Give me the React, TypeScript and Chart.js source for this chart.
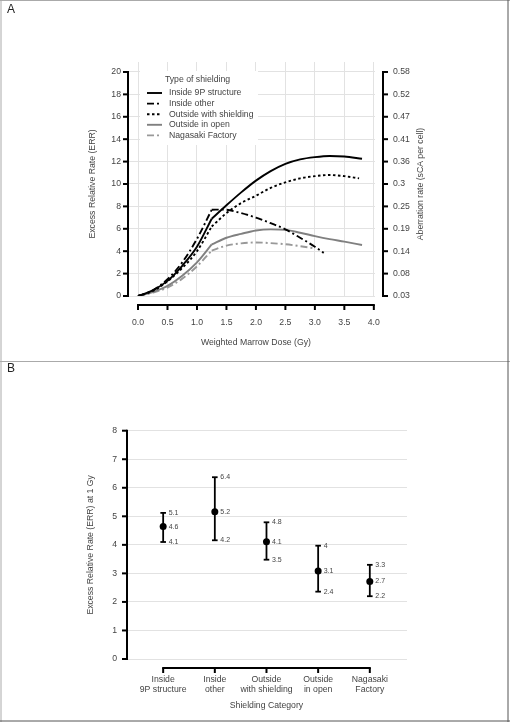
import React, { useEffect, useRef } from "react";
import { Chart, registerables } from "chart.js";

Chart.register(...registerables);

const FONT = '"Liberation Sans", Arial, sans-serif';
const TEXT = "#444";

// ---------- Panel A data ----------
const doseTicks = [0, 0.5, 1, 1.5, 2, 2.5, 3, 3.5, 4];
const errTicksA = [0, 2, 4, 6, 8, 10, 12, 14, 16, 18, 20];
const aberrationLabels = ["0.03", "0.08", "0.14", "0.19", "0.25", "0.3", "0.36", "0.41", "0.47", "0.52", "0.58"];
const kinkDose = 1.25;

const dose9P = [0, 0.25, 0.5, 0.75, 1.0, 1.25, 1.5, 1.75, 2.0, 2.25, 2.5, 2.75, 3.0, 3.25, 3.5, 3.8];
const err9P = [0, 0.5, 1.35, 2.7, 4.4, 6.9, 8.1, 9.25, 10.3, 11.15, 11.8, 12.2, 12.4, 12.5, 12.45, 12.25];

const doseOther = [0, 0.25, 0.5, 0.75, 1.0, 1.25, 1.45, 1.75, 2.0, 2.25, 2.5, 2.75, 3.0, 3.15];
const errOther = [0, 0.5, 1.5, 3.0, 5.1, 7.7, 7.72, 7.4, 7.0, 6.5, 5.95, 5.2, 4.4, 3.85];

const doseShield = [0, 0.25, 0.5, 0.75, 1.0, 1.25, 1.5, 1.75, 2.0, 2.25, 2.5, 2.75, 3.0, 3.25, 3.5, 3.75];
const errShield = [0, 0.45, 1.3, 2.5, 4.0, 6.2, 7.4, 8.3, 8.95, 9.65, 10.15, 10.5, 10.7, 10.8, 10.7, 10.5];

const doseOpen = [0, 0.25, 0.5, 0.75, 1.0, 1.25, 1.5, 1.75, 2.0, 2.25, 2.5, 2.75, 3.0, 3.25, 3.5, 3.8];
const errOpen = [0, 0.35, 0.9, 1.8, 3.0, 4.6, 5.2, 5.55, 5.85, 5.95, 5.9, 5.65, 5.35, 5.08, 4.85, 4.55];

const doseNagasaki = [0, 0.25, 0.5, 0.75, 1.0, 1.25, 1.5, 1.75, 2.0, 2.25, 2.5, 2.75, 3.0];
const errNagasaki = [0, 0.3, 0.75, 1.55, 2.65, 4.05, 4.5, 4.7, 4.78, 4.72, 4.62, 4.45, 4.25];

const seriesNames = ["Inside 9P structure", "Inside other", "Outside with shielding", "Outside in open", "Nagasaki Factory"];

// ---------- Panel B data ----------
const categories = [
  ["Inside", "9P structure"],
  ["Inside", "other"],
  ["Outside", "with shielding"],
  ["Outside", "in open"],
  ["Nagasaki", "Factory"],
];
const errAt1Gy = [4.64, 5.16, 4.11, 3.08, 2.72];
const errUpper = [5.12, 6.37, 4.79, 3.97, 3.3];
const errLower = [4.1, 4.16, 3.48, 2.36, 2.2];
const midLabels = ["4.6", "5.2", "4.1", "3.1", "2.7"];
const upperLabels = ["5.1", "6.4", "4.8", "4", "3.3"];
const lowerLabels = ["4.1", "4.2", "3.5", "2.4", "2.2"];
const errTicksB = [0, 1, 2, 3, 4, 5, 6, 7, 8];

const styles = [
  { color: "#000", width: 1.9, dash: [] as number[] },
  { color: "#000", width: 1.9, dash: [7, 3, 2, 3] },
  { color: "#000", width: 1.9, dash: [2.5, 2.5] },
  { color: "#808080", width: 1.9, dash: [] as number[] },
  { color: "#999", width: 1.9, dash: [7, 3, 2, 3] },
];

function pts(xs: number[], ys: number[]) {
  return xs.map((x, i) => ({ x, y: ys[i] }));
}

function splitAtKink(xs: number[], ys: number[]) {
  const k = xs.indexOf(kinkDose);
  return [pts(xs.slice(0, k + 1), ys.slice(0, k + 1)), pts(xs.slice(k), ys.slice(k))];
}

function line(ctx: CanvasRenderingContext2D, x1: number, y1: number, x2: number, y2: number) {
  ctx.beginPath();
  ctx.moveTo(x1, y1);
  ctx.lineTo(x2, y2);
  ctx.stroke();
}

function vText(ctx: CanvasRenderingContext2D, text: string, x: number, y: number) {
  ctx.save();
  ctx.translate(x, y);
  ctx.rotate(-Math.PI / 2);
  ctx.textAlign = "center";
  ctx.textBaseline = "middle";
  ctx.fillText(text, 0, 0);
  ctx.restore();
}

function drawBorder(ctx: CanvasRenderingContext2D, w: number, h: number, top: boolean, bottom: boolean) {
  ctx.save();
  ctx.lineWidth = 1;
  ctx.strokeStyle = "#aaa";
  if (top) line(ctx, 0, 0.5, w, 0.5);
  line(ctx, 1, 0, 1, h);
  ctx.strokeStyle = "#555";
  line(ctx, w - 2, 0, w - 2, h);
  if (bottom) line(ctx, 0, h - 1, w, h - 1);
  ctx.restore();
}

const panelAPlugin = {
  id: "panelA",
  afterDraw(chart: any) {
    const ctx: CanvasRenderingContext2D = chart.ctx;
    const area = chart.chartArea;
    const xs = chart.scales.x;
    const ys = chart.scales.y;
    ctx.save();
    // legend box
    ctx.fillStyle = "#fff";
    ctx.fillRect(140, 71, 118, 74);
    ctx.font = `8.7px ${FONT}`;
    ctx.fillStyle = TEXT;
    ctx.textAlign = "center";
    ctx.textBaseline = "middle";
    ctx.fillText("Type of shielding", 197.5, 79.5);
    ctx.textAlign = "left";
    seriesNames.forEach((name, i) => {
      const yy = 93 + i * 10.6;
      const st = styles[i];
      ctx.strokeStyle = st.color;
      ctx.lineWidth = st.width;
      ctx.setLineDash(st.dash);
      line(ctx, 147, yy, 162, yy);
      ctx.setLineDash([]);
      ctx.fillStyle = TEXT;
      ctx.fillText(name, 169, yy);
    });

    // axes
    ctx.strokeStyle = "#000";
    ctx.lineWidth = 2;
    ctx.lineCap = "butt";
    const yTop = ys.getPixelForValue(20);
    const yBot = ys.getPixelForValue(0);
    const xl = area.left;
    line(ctx, xl, yTop - 1, xl, yBot + 1);
    errTicksA.forEach((v) => {
      const p = ys.getPixelForValue(v);
      line(ctx, xl - 5, p, xl, p);
    });
    const xr = area.right + 8;
    line(ctx, xr, yTop - 1, xr, yBot + 1);
    errTicksA.forEach((v) => {
      const p = ys.getPixelForValue(v);
      line(ctx, xr, p, xr + 5, p);
    });
    const ya = area.bottom + 9;
    const x0 = xs.getPixelForValue(doseTicks[0]);
    const x1 = xs.getPixelForValue(doseTicks[doseTicks.length - 1]);
    line(ctx, x0 - 1, ya, x1 + 1, ya);
    doseTicks.forEach((v) => {
      const p = xs.getPixelForValue(v);
      line(ctx, p, ya, p, ya + 5);
    });

    // titles
    ctx.fillStyle = TEXT;
    ctx.font = `8.7px ${FONT}`;
    ctx.textAlign = "center";
    ctx.textBaseline = "middle";
    ctx.fillText("Weighted Marrow Dose (Gy)", (x0 + x1) / 2, 343);
    vText(ctx, "Excess Relative Rate (ERR)", 93, (yTop + yBot) / 2);
    vText(ctx, "Aberration rate (sCA per cell)", 421, (yTop + yBot) / 2);

    ctx.font = `12px ${FONT}`;
    ctx.fillStyle = "#222";
    ctx.textAlign = "left";
    ctx.fillText("A", 7, 9.5);
    ctx.restore();
    drawBorder(ctx, chart.width, chart.height, true, false);
  },
};

const panelBPlugin = {
  id: "panelB",
  beforeDatasetsDraw(chart: any) {
    const ctx: CanvasRenderingContext2D = chart.ctx;
    const xs = chart.scales.x;
    const ys = chart.scales.y;
    ctx.save();
    ctx.strokeStyle = "#000";
    ctx.lineWidth = 1.8;
    errAt1Gy.forEach((_, i) => {
      const px = xs.getPixelForValue(i + 1);
      const pu = ys.getPixelForValue(errUpper[i]);
      const pl = ys.getPixelForValue(errLower[i]);
      line(ctx, px, pu, px, pl);
      line(ctx, px - 2.8, pu, px + 2.8, pu);
      line(ctx, px - 2.8, pl, px + 2.8, pl);
    });
    ctx.restore();
  },
  afterDraw(chart: any) {
    const ctx: CanvasRenderingContext2D = chart.ctx;
    const area = chart.chartArea;
    const xs = chart.scales.x;
    const ys = chart.scales.y;
    ctx.save();
    // value labels
    ctx.font = `7px ${FONT}`;
    ctx.fillStyle = TEXT;
    ctx.textAlign = "left";
    ctx.textBaseline = "middle";
    errAt1Gy.forEach((v, i) => {
      const px = xs.getPixelForValue(i + 1) + 5.5;
      ctx.fillText(upperLabels[i], px, ys.getPixelForValue(errUpper[i]));
      ctx.fillText(midLabels[i], px, ys.getPixelForValue(v));
      ctx.fillText(lowerLabels[i], px, ys.getPixelForValue(errLower[i]));
    });

    // axes
    ctx.strokeStyle = "#000";
    ctx.lineWidth = 2;
    const yTop = ys.getPixelForValue(8);
    const yBot = ys.getPixelForValue(0);
    const xl = area.left;
    line(ctx, xl, yTop - 1, xl, yBot + 1);
    errTicksB.forEach((v) => {
      const p = ys.getPixelForValue(v);
      line(ctx, xl - 5, p, xl, p);
    });
    const ya = area.bottom + 9;
    const x0 = xs.getPixelForValue(1);
    const x1 = xs.getPixelForValue(categories.length);
    line(ctx, x0 - 1, ya, x1 + 1, ya);
    categories.forEach((_, i) => {
      const p = xs.getPixelForValue(i + 1);
      line(ctx, p, ya, p, ya + 5);
    });

    ctx.fillStyle = TEXT;
    ctx.font = `8.7px ${FONT}`;
    ctx.textAlign = "center";
    ctx.fillText("Shielding Category", (x0 + x1) / 2, 345);
    vText(ctx, "Excess Relative Rate (ERR) at 1 Gy", 90.5, (yTop + yBot) / 2);

    ctx.font = `12px ${FONT}`;
    ctx.fillStyle = "#222";
    ctx.textAlign = "left";
    ctx.fillText("B", 7, 8);
    ctx.restore();
    drawBorder(ctx, chart.width, chart.height, true, true);
  },
};

function PanelA() {
  const ref = useRef<HTMLCanvasElement>(null);
  useEffect(() => {
    const series = [
      splitAtKink(dose9P, err9P),
      splitAtKink(doseOther, errOther),
      splitAtKink(doseShield, errShield),
      splitAtKink(doseOpen, errOpen),
      splitAtKink(doseNagasaki, errNagasaki),
    ];
    const datasets: any[] = [];
    series.forEach((parts, i) => {
      parts.forEach((d) => {
        datasets.push({
          label: seriesNames[i],
          data: d,
          borderColor: styles[i].color,
          borderWidth: styles[i].width,
          borderDash: styles[i].dash,
          pointRadius: 0,
          fill: false,
          cubicInterpolationMode: "monotone",
          yAxisID: "y",
        });
      });
    });
    const chart = new Chart(ref.current!, {
      type: "line",
      data: { datasets },
      options: {
        responsive: false,
        animation: false,
        layout: { padding: { top: 62, left: 0, right: 0, bottom: 0 } },
        plugins: { legend: { display: false }, tooltip: { enabled: false } },
        scales: {
          x: {
            type: "linear",
            min: -0.17,
            max: 4.02,
            afterBuildTicks: (s: any) => {
              s.ticks = doseTicks.map((v) => ({ value: v }));
            },
            afterFit: (s: any) => {
              s.height = 65;
            },
            grid: { color: "#e2e2e2", lineWidth: 1, drawTicks: false },
            border: { display: false },
            ticks: {
              padding: 21,
              color: TEXT,
              font: { family: FONT, size: 8.7 },
              maxRotation: 0,
              autoSkip: false,
              callback: (v: any) => Number(v).toFixed(1),
            },
          },
          y: {
            type: "linear",
            position: "left",
            min: 0,
            max: 20.89,
            afterBuildTicks: (s: any) => {
              s.ticks = errTicksA.map((v) => ({ value: v }));
            },
            afterFit: (s: any) => {
              s.width = 128;
            },
            grid: { color: "#e2e2e2", lineWidth: 1, drawTicks: false },
            border: { display: false },
            ticks: {
              padding: 7,
              color: TEXT,
              font: { family: FONT, size: 8.7 },
              callback: (v: any) => String(v),
            },
          },
          y1: {
            type: "linear",
            position: "right",
            min: 0,
            max: 20.89,
            afterBuildTicks: (s: any) => {
              s.ticks = errTicksA.map((v) => ({ value: v }));
            },
            afterFit: (s: any) => {
              s.width = 135;
            },
            grid: { display: false, drawTicks: false },
            border: { display: false },
            ticks: {
              padding: 18,
              color: TEXT,
              font: { family: FONT, size: 8.7 },
              callback: (_v: any, i: number) => aberrationLabels[i],
            },
          },
        },
      },
      plugins: [panelAPlugin],
    } as any);
    return () => chart.destroy();
  }, []);
  return <canvas ref={ref} width={510} height={361} style={{ display: "block", width: 510, height: 361 }} />;
}

function PanelB() {
  const ref = useRef<HTMLCanvasElement>(null);
  useEffect(() => {
    const chart = new Chart(ref.current!, {
      type: "scatter",
      data: {
        datasets: [
          {
            label: "ERR at 1 Gy",
            data: errAt1Gy.map((v, i) => ({ x: i + 1, y: v })),
            pointRadius: 3.5,
            pointBackgroundColor: "#000",
            pointBorderColor: "#000",
            pointBorderWidth: 0,
          },
        ],
      },
      options: {
        responsive: false,
        animation: false,
        layout: { padding: { top: 69.7, left: 0, right: 103, bottom: 0 } },
        plugins: { legend: { display: false }, tooltip: { enabled: false } },
        scales: {
          x: {
            type: "linear",
            min: 0.3,
            max: 5.72,
            afterBuildTicks: (s: any) => {
              s.ticks = categories.map((_, i) => ({ value: i + 1 }));
            },
            afterFit: (s: any) => {
              s.height = 63;
            },
            grid: { display: false, drawTicks: false },
            border: { display: false },
            ticks: {
              padding: 16,
              color: TEXT,
              font: { family: FONT, size: 8.7, lineHeight: 1.15 },
              maxRotation: 0,
              autoSkip: false,
              callback: (v: any) => categories[Math.round(Number(v)) - 1],
            },
          },
          y: {
            type: "linear",
            position: "left",
            min: 0,
            max: 8,
            afterBuildTicks: (s: any) => {
              s.ticks = errTicksB.map((v) => ({ value: v }));
            },
            afterFit: (s: any) => {
              s.width = 127;
            },
            grid: { color: "#e2e2e2", lineWidth: 1, drawTicks: false },
            border: { display: false },
            ticks: {
              padding: 10,
              color: TEXT,
              font: { family: FONT, size: 8.7 },
              callback: (v: any) => String(v),
            },
          },
        },
      },
      plugins: [panelBPlugin],
    } as any);
    return () => chart.destroy();
  }, []);
  return <canvas ref={ref} width={510} height={361} style={{ display: "block", width: 510, height: 361 }} />;
}

export default function App() {
  return (
    <div style={{ position: "absolute", left: 0, top: 0, width: 510, height: 722, background: "#fff" }}>
      <PanelA />
      <PanelB />
    </div>
  );
}
